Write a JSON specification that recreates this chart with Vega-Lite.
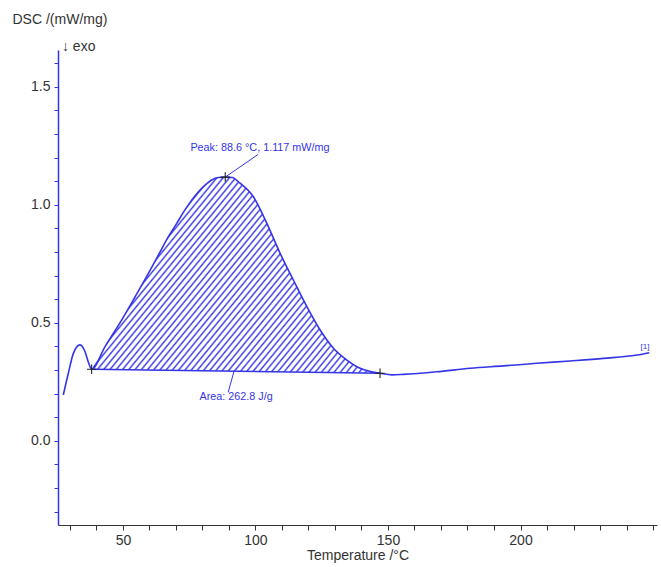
{
  "$schema": "https://vega.github.io/schema/vega-lite/v6.json",
  "width": 599,
  "height": 475,
  "autosize": {"type": "none"},
  "padding": {"left": 58, "top": 50, "right": 4, "bottom": 42},
  "background": "white",
  "config": {"view": {"stroke": null}, "font": "Liberation Sans"},
  "datasets": {
    "curve": [
      {"T": 27.5, "D": 0.194}, {"T": 29.4, "D": 0.286}, {"T": 31.3, "D": 0.370}, {"T": 33.8, "D": 0.406},
      {"T": 35.7, "D": 0.377}, {"T": 36.9, "D": 0.335}, {"T": 38.2, "D": 0.303}, {"T": 43.2, "D": 0.398},
      {"T": 49.5, "D": 0.511}, {"T": 54.6, "D": 0.610}, {"T": 59.6, "D": 0.709}, {"T": 63.4, "D": 0.787},
      {"T": 67.1, "D": 0.864}, {"T": 70.3, "D": 0.921}, {"T": 73.4, "D": 0.978}, {"T": 78.5, "D": 1.055},
      {"T": 81.0, "D": 1.083}, {"T": 83.5, "D": 1.105}, {"T": 86.0, "D": 1.115}, {"T": 88.6, "D": 1.117},
      {"T": 91.2, "D": 1.115}, {"T": 94.2, "D": 1.091}, {"T": 99.2, "D": 1.034}, {"T": 104.3, "D": 0.921},
      {"T": 109.3, "D": 0.794}, {"T": 114.3, "D": 0.681}, {"T": 119.4, "D": 0.568}, {"T": 124.4, "D": 0.469},
      {"T": 129.4, "D": 0.392}, {"T": 134.5, "D": 0.342}, {"T": 139.5, "D": 0.307}, {"T": 143.0, "D": 0.294},
      {"T": 147.0, "D": 0.286}, {"T": 151.5, "D": 0.279}, {"T": 155.8, "D": 0.281}, {"T": 168.4, "D": 0.292},
      {"T": 181.0, "D": 0.307}, {"T": 193.5, "D": 0.317}, {"T": 206.2, "D": 0.328}, {"T": 218.7, "D": 0.338},
      {"T": 231.3, "D": 0.349}, {"T": 243.9, "D": 0.363}, {"T": 248.6, "D": 0.373}
    ],
    "peak": [
      {"T": 38.2, "D": 0.303, "base": 0.303}, {"T": 43.2, "D": 0.398, "base": 0.3022},
      {"T": 49.5, "D": 0.511, "base": 0.3012}, {"T": 54.6, "D": 0.610, "base": 0.3004},
      {"T": 59.6, "D": 0.709, "base": 0.2997}, {"T": 63.4, "D": 0.787, "base": 0.2991},
      {"T": 67.1, "D": 0.864, "base": 0.2985}, {"T": 70.3, "D": 0.921, "base": 0.2980},
      {"T": 73.4, "D": 0.978, "base": 0.2975}, {"T": 78.5, "D": 1.055, "base": 0.2967},
      {"T": 81.0, "D": 1.083, "base": 0.2963}, {"T": 83.5, "D": 1.105, "base": 0.2959},
      {"T": 86.0, "D": 1.115, "base": 0.2955}, {"T": 88.6, "D": 1.117, "base": 0.2951},
      {"T": 91.2, "D": 1.115, "base": 0.2947}, {"T": 94.2, "D": 1.091, "base": 0.2942},
      {"T": 99.2, "D": 1.034, "base": 0.2935}, {"T": 104.3, "D": 0.921, "base": 0.2927},
      {"T": 109.3, "D": 0.794, "base": 0.2919}, {"T": 114.3, "D": 0.681, "base": 0.2911},
      {"T": 119.4, "D": 0.568, "base": 0.2903}, {"T": 124.4, "D": 0.469, "base": 0.2895},
      {"T": 129.4, "D": 0.392, "base": 0.2887}, {"T": 134.5, "D": 0.342, "base": 0.2879},
      {"T": 139.5, "D": 0.307, "base": 0.2872}, {"T": 143.0, "D": 0.294, "base": 0.2866},
      {"T": 147.0, "D": 0.286, "base": 0.286}
    ]
  },
  "encoding": {
    "x": {
      "field": "T", "type": "quantitative",
      "scale": {"domain": [25.5, 251.5], "nice": false, "zero": false},
      "axis": {
        "values": [30, 40, 50, 60, 70, 80, 90, 100, 110, 120, 130, 140, 150, 160, 170, 180, 190, 200, 210, 220, 230, 240, 250],
        "labelExpr": "(datum.value % 50 === 0 && datum.value < 240) ? datum.value : ''",
        "labelOverlap": false, "labelFlush": false, "grid": false,
        "domainColor": "#333333", "domainWidth": 1.2, "tickColor": "#333333", "tickSize": 5,
        "labelColor": "#333333", "labelFont": "Liberation Sans", "labelFontSize": 14, "labelPadding": 3,
        "title": "Temperature /°C", "titleFont": "Liberation Sans", "titleFontSize": 14,
        "titleFontWeight": "normal", "titleColor": "#333333", "titlePadding": 1
      }
    },
    "y": {
      "field": "D", "type": "quantitative",
      "scale": {"domain": [-0.357, 1.6555], "nice": false, "zero": false},
      "axis": {
        "values": [-0.3, -0.2, -0.1, 0, 0.1, 0.2, 0.3, 0.4, 0.5, 0.6, 0.7, 0.8, 0.9, 1.0, 1.1, 1.2, 1.3, 1.4, 1.5, 1.6],
        "labelExpr": "abs(datum.value * 2 - round(datum.value * 2)) < 0.001 ? format(datum.value, '.1f') : ''",
        "labelOverlap": false, "labelFlush": false, "grid": false,
        "domainColor": "#3535e8", "domainWidth": 1.5, "tickColor": "#3535e8", "tickSize": 4,
        "labelColor": "#333333", "labelFont": "Liberation Sans", "labelFontSize": 14, "labelPadding": 4,
        "title": "DSC /(mW/mg)", "titleAngle": 0, "titleAlign": "left", "titleBaseline": "alphabetic",
        "titleX": -46, "titleY": -27, "titleFont": "Liberation Sans", "titleFontSize": 14,
        "titleFontWeight": "normal", "titleColor": "#333333"
      }
    }
  },
  "layer": [
    {
      "data": {"name": "peak"},
      "mark": {
        "type": "area", "interpolate": "monotone", "stroke": null,
        "fill": {
          "gradient": "linear", "x1": 0, "y1": 0, "x2": 1.188, "y2": 0.662,
          "stops": [
            {"offset": 0, "color": "#3535e8"}, {"offset": 0.004, "color": "#fff"}, {"offset": 0.010, "color": "#fff"},
            {"offset": 0.014, "color": "#3535e8"}, {"offset": 0.018, "color": "#fff"}, {"offset": 0.024, "color": "#fff"},
            {"offset": 0.028, "color": "#3535e8"}, {"offset": 0.032, "color": "#fff"}, {"offset": 0.038, "color": "#fff"},
            {"offset": 0.042, "color": "#3535e8"}, {"offset": 0.046, "color": "#fff"}, {"offset": 0.052, "color": "#fff"},
            {"offset": 0.056, "color": "#3535e8"}, {"offset": 0.060, "color": "#fff"}, {"offset": 0.066, "color": "#fff"},
            {"offset": 0.070, "color": "#3535e8"}, {"offset": 0.074, "color": "#fff"}, {"offset": 0.080, "color": "#fff"},
            {"offset": 0.084, "color": "#3535e8"}, {"offset": 0.088, "color": "#fff"}, {"offset": 0.094, "color": "#fff"},
            {"offset": 0.098, "color": "#3535e8"}, {"offset": 0.102, "color": "#fff"}, {"offset": 0.108, "color": "#fff"},
            {"offset": 0.112, "color": "#3535e8"}, {"offset": 0.116, "color": "#fff"}, {"offset": 0.122, "color": "#fff"},
            {"offset": 0.126, "color": "#3535e8"}, {"offset": 0.130, "color": "#fff"}, {"offset": 0.136, "color": "#fff"},
            {"offset": 0.140, "color": "#3535e8"}, {"offset": 0.144, "color": "#fff"}, {"offset": 0.150, "color": "#fff"},
            {"offset": 0.154, "color": "#3535e8"}, {"offset": 0.158, "color": "#fff"}, {"offset": 0.164, "color": "#fff"},
            {"offset": 0.168, "color": "#3535e8"}, {"offset": 0.172, "color": "#fff"}, {"offset": 0.178, "color": "#fff"},
            {"offset": 0.182, "color": "#3535e8"}, {"offset": 0.186, "color": "#fff"}, {"offset": 0.192, "color": "#fff"},
            {"offset": 0.196, "color": "#3535e8"}, {"offset": 0.200, "color": "#fff"}, {"offset": 0.206, "color": "#fff"},
            {"offset": 0.210, "color": "#3535e8"}, {"offset": 0.214, "color": "#fff"}, {"offset": 0.220, "color": "#fff"},
            {"offset": 0.224, "color": "#3535e8"}, {"offset": 0.228, "color": "#fff"}, {"offset": 0.234, "color": "#fff"},
            {"offset": 0.238, "color": "#3535e8"}, {"offset": 0.242, "color": "#fff"}, {"offset": 0.248, "color": "#fff"},
            {"offset": 0.252, "color": "#3535e8"}, {"offset": 0.256, "color": "#fff"}, {"offset": 0.262, "color": "#fff"},
            {"offset": 0.266, "color": "#3535e8"}, {"offset": 0.270, "color": "#fff"}, {"offset": 0.276, "color": "#fff"},
            {"offset": 0.280, "color": "#3535e8"}, {"offset": 0.284, "color": "#fff"}, {"offset": 0.290, "color": "#fff"},
            {"offset": 0.294, "color": "#3535e8"}, {"offset": 0.298, "color": "#fff"}, {"offset": 0.304, "color": "#fff"},
            {"offset": 0.308, "color": "#3535e8"}, {"offset": 0.312, "color": "#fff"}, {"offset": 0.318, "color": "#fff"},
            {"offset": 0.322, "color": "#3535e8"}, {"offset": 0.326, "color": "#fff"}, {"offset": 0.332, "color": "#fff"},
            {"offset": 0.336, "color": "#3535e8"}, {"offset": 0.340, "color": "#fff"}, {"offset": 0.346, "color": "#fff"},
            {"offset": 0.350, "color": "#3535e8"}, {"offset": 0.354, "color": "#fff"}, {"offset": 0.360, "color": "#fff"},
            {"offset": 0.364, "color": "#3535e8"}, {"offset": 0.368, "color": "#fff"}, {"offset": 0.374, "color": "#fff"},
            {"offset": 0.378, "color": "#3535e8"}, {"offset": 0.382, "color": "#fff"}, {"offset": 0.388, "color": "#fff"},
            {"offset": 0.392, "color": "#3535e8"}, {"offset": 0.396, "color": "#fff"}, {"offset": 0.402, "color": "#fff"},
            {"offset": 0.406, "color": "#3535e8"}, {"offset": 0.410, "color": "#fff"}, {"offset": 0.416, "color": "#fff"},
            {"offset": 0.420, "color": "#3535e8"}, {"offset": 0.424, "color": "#fff"}, {"offset": 0.430, "color": "#fff"},
            {"offset": 0.434, "color": "#3535e8"}, {"offset": 0.438, "color": "#fff"}, {"offset": 0.444, "color": "#fff"},
            {"offset": 0.448, "color": "#3535e8"}, {"offset": 0.452, "color": "#fff"}, {"offset": 0.458, "color": "#fff"},
            {"offset": 0.462, "color": "#3535e8"}, {"offset": 0.466, "color": "#fff"}, {"offset": 0.472, "color": "#fff"},
            {"offset": 0.476, "color": "#3535e8"}, {"offset": 0.480, "color": "#fff"}, {"offset": 0.486, "color": "#fff"},
            {"offset": 0.490, "color": "#3535e8"}, {"offset": 0.494, "color": "#fff"}, {"offset": 0.500, "color": "#fff"},
            {"offset": 0.504, "color": "#3535e8"}, {"offset": 0.508, "color": "#fff"}, {"offset": 0.514, "color": "#fff"},
            {"offset": 0.518, "color": "#3535e8"}, {"offset": 0.522, "color": "#fff"}, {"offset": 0.528, "color": "#fff"},
            {"offset": 0.532, "color": "#3535e8"}, {"offset": 0.536, "color": "#fff"}, {"offset": 0.542, "color": "#fff"},
            {"offset": 0.546, "color": "#3535e8"}, {"offset": 0.550, "color": "#fff"}, {"offset": 0.556, "color": "#fff"},
            {"offset": 0.560, "color": "#3535e8"}, {"offset": 0.564, "color": "#fff"}, {"offset": 0.570, "color": "#fff"},
            {"offset": 0.574, "color": "#3535e8"}, {"offset": 0.578, "color": "#fff"}, {"offset": 0.584, "color": "#fff"},
            {"offset": 0.588, "color": "#3535e8"}, {"offset": 0.592, "color": "#fff"}, {"offset": 0.598, "color": "#fff"},
            {"offset": 0.602, "color": "#3535e8"}, {"offset": 0.606, "color": "#fff"}, {"offset": 0.612, "color": "#fff"},
            {"offset": 0.616, "color": "#3535e8"}, {"offset": 0.620, "color": "#fff"}, {"offset": 0.626, "color": "#fff"},
            {"offset": 0.630, "color": "#3535e8"}, {"offset": 0.634, "color": "#fff"}, {"offset": 0.640, "color": "#fff"},
            {"offset": 0.644, "color": "#3535e8"}, {"offset": 0.648, "color": "#fff"}, {"offset": 0.654, "color": "#fff"},
            {"offset": 0.658, "color": "#3535e8"}, {"offset": 0.662, "color": "#fff"}, {"offset": 0.668, "color": "#fff"},
            {"offset": 0.672, "color": "#3535e8"}, {"offset": 0.676, "color": "#fff"}, {"offset": 0.682, "color": "#fff"},
            {"offset": 0.686, "color": "#3535e8"}, {"offset": 0.690, "color": "#fff"}, {"offset": 0.696, "color": "#fff"},
            {"offset": 0.700, "color": "#3535e8"}, {"offset": 0.704, "color": "#fff"}, {"offset": 0.710, "color": "#fff"},
            {"offset": 0.714, "color": "#3535e8"}, {"offset": 0.718, "color": "#fff"}, {"offset": 0.724, "color": "#fff"},
            {"offset": 0.728, "color": "#3535e8"}, {"offset": 0.732, "color": "#fff"}, {"offset": 0.738, "color": "#fff"},
            {"offset": 0.742, "color": "#3535e8"}, {"offset": 0.746, "color": "#fff"}, {"offset": 0.752, "color": "#fff"},
            {"offset": 0.756, "color": "#3535e8"}, {"offset": 0.760, "color": "#fff"}, {"offset": 0.766, "color": "#fff"},
            {"offset": 0.770, "color": "#3535e8"}, {"offset": 0.774, "color": "#fff"}, {"offset": 0.780, "color": "#fff"},
            {"offset": 0.784, "color": "#3535e8"}, {"offset": 0.788, "color": "#fff"}, {"offset": 0.794, "color": "#fff"},
            {"offset": 0.798, "color": "#3535e8"}, {"offset": 0.802, "color": "#fff"}, {"offset": 0.808, "color": "#fff"},
            {"offset": 0.812, "color": "#3535e8"}, {"offset": 0.816, "color": "#fff"}, {"offset": 0.822, "color": "#fff"},
            {"offset": 0.826, "color": "#3535e8"}, {"offset": 0.830, "color": "#fff"}, {"offset": 0.836, "color": "#fff"},
            {"offset": 0.840, "color": "#3535e8"}, {"offset": 0.844, "color": "#fff"}, {"offset": 0.850, "color": "#fff"},
            {"offset": 0.854, "color": "#3535e8"}, {"offset": 0.858, "color": "#fff"}, {"offset": 0.864, "color": "#fff"},
            {"offset": 0.868, "color": "#3535e8"}, {"offset": 0.872, "color": "#fff"}, {"offset": 0.878, "color": "#fff"},
            {"offset": 0.882, "color": "#3535e8"}, {"offset": 0.886, "color": "#fff"}, {"offset": 0.892, "color": "#fff"},
            {"offset": 0.896, "color": "#3535e8"}, {"offset": 0.900, "color": "#fff"}, {"offset": 0.906, "color": "#fff"},
            {"offset": 0.910, "color": "#3535e8"}, {"offset": 0.914, "color": "#fff"}, {"offset": 0.920, "color": "#fff"},
            {"offset": 0.924, "color": "#3535e8"}, {"offset": 0.928, "color": "#fff"}, {"offset": 0.934, "color": "#fff"},
            {"offset": 0.938, "color": "#3535e8"}, {"offset": 0.942, "color": "#fff"}, {"offset": 0.948, "color": "#fff"},
            {"offset": 0.952, "color": "#3535e8"}, {"offset": 0.956, "color": "#fff"}, {"offset": 0.962, "color": "#fff"},
            {"offset": 0.966, "color": "#3535e8"}, {"offset": 0.970, "color": "#fff"}, {"offset": 0.976, "color": "#fff"},
            {"offset": 0.980, "color": "#3535e8"}, {"offset": 0.984, "color": "#fff"}, {"offset": 0.990, "color": "#fff"},
            {"offset": 0.994, "color": "#3535e8"}, {"offset": 0.998, "color": "#fff"}, {"offset": 1, "color": "#fff"}
          ]
        }
      },
      "encoding": {"y2": {"field": "base"}}
    },
    {
      "data": {"values": [{"T": 38.2, "D": 0.303, "T2": 147.0, "D2": 0.286}]},
      "mark": {"type": "rule", "color": "#3535e8", "strokeWidth": 1.5},
      "encoding": {"x2": {"field": "T2"}, "y2": {"field": "D2"}}
    },
    {
      "data": {"name": "curve"},
      "mark": {"type": "line", "interpolate": "monotone", "color": "#3535e8", "strokeWidth": 1.6},
      "encoding": {}
    },
    {
      "data": {"values": [
        {"T": 88.6, "D": 1.117, "T2": 101.0, "D2": 1.213},
        {"T": 91.9, "D": 0.294, "T2": 89.7, "D2": 0.205}
      ]},
      "mark": {"type": "rule", "color": "#3535e8", "strokeWidth": 1},
      "encoding": {"x2": {"field": "T2"}, "y2": {"field": "D2"}}
    },
    {
      "data": {"values": [{"T": 38.2, "D": 0.303}, {"T": 88.6, "D": 1.117}, {"T": 147.0, "D": 0.286}]},
      "mark": {"type": "point", "shape": "M-1,0L1,0M0,-1L0,1", "filled": false, "stroke": "#222222", "strokeWidth": 1.1, "size": 90, "opacity": 1}
    },
    {
      "data": {"values": [
        {"T": 101.7, "D": 1.240, "label": "Peak: 88.6 °C, 1.117 mW/mg"},
        {"T": 92.7, "D": 0.185, "label": "Area: 262.8 J/g"}
      ]},
      "mark": {"type": "text", "color": "#3535e8", "font": "Liberation Sans", "fontSize": 10.8, "align": "center", "baseline": "middle"},
      "encoding": {"text": {"field": "label"}}
    },
    {
      "data": {"values": [{"T": 247.0, "D": 0.397, "label": "[1]"}]},
      "mark": {"type": "text", "color": "#3535e8", "font": "Liberation Sans", "fontSize": 8, "align": "center", "baseline": "middle"},
      "encoding": {"text": {"field": "label"}}
    },
    {
      "data": {"values": [{"T": 27.0, "D": 1.652, "label": "↓ exo"}]},
      "mark": {"type": "text", "color": "#333333", "font": "Liberation Sans", "fontSize": 14, "align": "left", "baseline": "alphabetic"},
      "encoding": {"text": {"field": "label"}}
    }
  ]
}
